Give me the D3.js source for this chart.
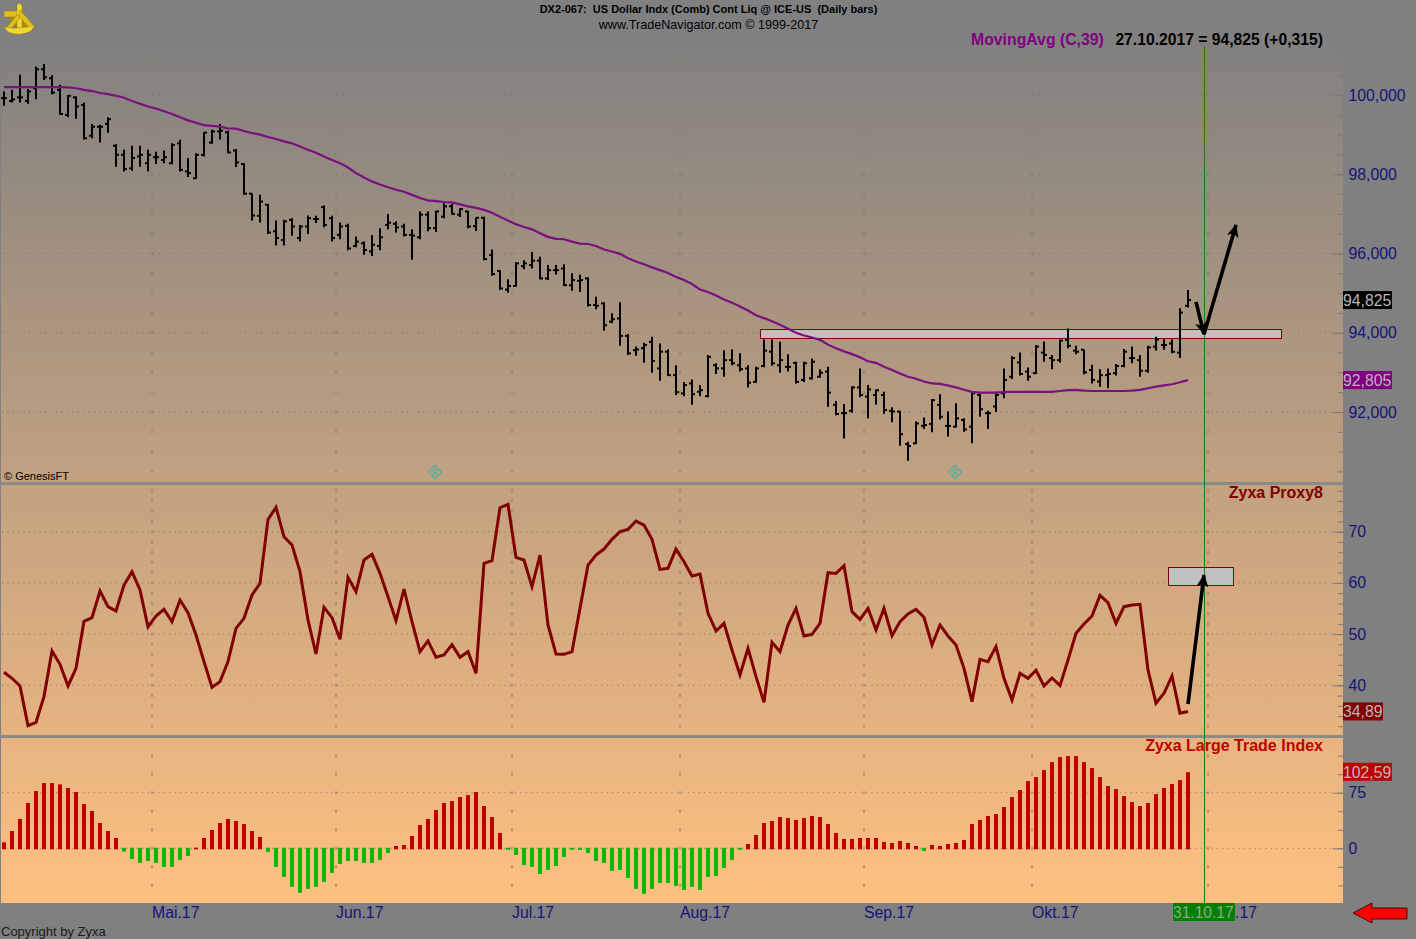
<!DOCTYPE html>
<html>
<head>
<meta charset="utf-8">
<title>DX2-067</title>
<script src="https://cdnjs.cloudflare.com/ajax/libs/d3/7.8.5/d3.min.js"></script>
<style>
  html, body { margin: 0; padding: 0; background: #808080; }
  svg { display: block; }
  text { font-family: "Liberation Sans", Arial, sans-serif; }
</style>
</head>
<body>
<svg id="chart" width="1416" height="939"></svg>
<script>
// daily bars, index 0 = first bar on the left, index 148 = 27.10.2017
const opens = [99.92,99.85,99.94,99.85,100.17,100.65,100.42,100.13,99.50,99.94,99.75,98.97,99.20,99.27,98.72,98.49,98.15,98.45,98.28,98.43,98.36,98.28,98.78,98.07,97.90,98.49,98.80,99.08,99.06,98.60,98.26,97.51,96.95,97.23,96.56,96.34,96.85,96.39,96.68,96.87,97.17,96.89,96.47,96.70,96.19,96.26,96.05,96.19,96.72,96.75,96.68,96.47,96.41,96.98,96.64,96.93,97.19,96.98,97.06,
  96.69,96.90,95.96,95.56,95.09,95.18,95.68,95.71,95.82,95.37,95.58,95.62,95.20,95.31,95.37,94.70,94.74,94.28,94.36,93.92,93.56,93.61,93.77,93.10,93.52,92.93,92.47,92.72,92.51,92.40,93.18,93.10,93.31,93.18,93.10,92.76,93.16,93.52,93.18,93.14,93.24,92.81,92.85,92.89,93.02,92.18,91.97,92.03,92.62,92.39,92.43,92.43,92.03,92.01,91.19,91.21,91.65,91.70,92.18,
  91.65,91.63,91.80,91.63,92.43,91.97,92.14,92.47,92.89,93.25,93.02,92.98,93.50,93.36,93.31,93.82,93.55,93.57,93.06,92.77,92.93,92.98,93.16,93.36,93.31,93.04,93.65,93.69,93.73,93.50,94.68];
const highs = [100.09,100.13,100.51,100.15,100.72,100.78,100.50,100.26,100.00,99.96,99.81,99.27,99.25,99.44,98.76,98.62,98.72,98.72,98.62,98.57,98.60,98.78,98.87,98.41,98.53,99.06,99.12,99.27,99.10,98.64,98.28,97.52,97.48,97.25,96.83,96.85,96.89,96.72,96.96,96.95,97.21,96.95,96.78,96.75,96.43,96.30,96.47,96.64,97.00,96.81,96.75,96.61,97.06,97.06,97.08,97.27,97.25,97.14,97.08,
  96.91,96.93,96.10,95.58,95.35,95.78,95.83,96.04,95.92,95.71,95.71,95.73,95.50,95.47,95.40,94.91,94.77,94.49,94.77,93.97,93.65,93.75,93.90,93.73,93.58,93.18,92.76,92.82,92.68,93.44,93.23,93.56,93.58,93.48,93.18,93.14,93.83,93.83,93.77,93.46,93.27,93.27,93.35,93.08,93.14,92.28,92.20,92.65,93.10,92.68,92.57,92.51,92.12,92.03,91.25,91.76,91.86,92.33,92.45,
  92.01,92.22,91.84,92.51,92.46,92.03,92.51,93.10,93.41,93.50,93.12,93.69,93.78,93.44,93.83,94.11,93.67,93.58,93.19,93.08,93.10,93.21,93.59,93.65,93.44,93.67,93.90,93.84,93.83,94.62,95.08];
const lows = [99.73,99.81,99.81,99.78,99.89,100.38,100.02,99.50,99.44,99.40,98.88,98.91,98.80,99.05,98.19,98.07,98.09,98.19,98.07,98.26,98.28,98.25,98.07,97.93,97.88,98.45,98.77,98.88,98.53,98.18,97.48,96.83,96.78,96.49,96.20,96.20,96.45,96.30,96.49,96.77,96.66,96.30,96.36,96.08,96.16,95.97,95.94,96.08,96.61,96.53,96.43,95.84,96.36,96.56,96.54,96.89,96.98,96.92,96.64,
  96.57,95.83,95.44,95.08,95.01,95.16,95.60,95.62,95.35,95.33,95.47,95.18,95.06,95.03,94.66,94.59,94.05,94.24,93.67,93.44,93.42,93.24,92.99,92.79,92.91,92.43,92.40,92.18,92.40,92.37,92.96,92.89,93.18,93.02,92.62,92.74,93.13,93.17,92.99,93.02,92.72,92.76,92.82,92.87,92.13,91.92,91.33,91.98,92.37,91.84,92.19,91.95,91.74,91.15,90.77,91.19,91.57,91.49,91.81,
  91.38,91.61,91.50,91.21,91.88,91.57,92.00,92.35,92.83,92.92,92.79,92.96,93.27,93.08,93.25,93.61,93.46,92.95,92.72,92.64,92.60,92.92,93.13,93.23,92.89,92.99,93.55,93.57,93.48,93.36,94.64];
const closes = [99.92,99.89,99.94,100.09,100.65,100.45,100.06,99.52,99.98,99.71,98.91,99.20,99.20,99.39,98.49,98.13,98.41,98.49,98.49,98.43,98.43,98.74,98.11,98.03,98.49,99.05,99.08,99.10,98.55,98.30,97.51,96.96,97.31,96.53,96.39,96.81,96.68,96.68,96.89,96.87,96.72,96.39,96.68,96.13,96.30,96.09,96.22,96.41,96.78,96.66,96.47,96.45,96.98,96.64,97.06,97.19,97.00,97.12,96.68,
  96.90,95.86,95.48,95.12,95.18,95.75,95.75,95.82,95.37,95.58,95.58,95.20,95.33,95.33,94.70,94.68,94.19,94.34,93.92,93.48,93.58,93.69,93.29,93.52,92.93,92.50,92.68,92.45,92.55,93.39,93.10,93.31,93.23,93.08,92.74,93.10,93.55,93.23,93.31,93.14,92.76,93.23,93.27,92.99,92.49,91.95,91.97,92.62,92.43,92.57,92.55,92.05,92.01,91.44,91.14,91.71,91.67,92.30,91.88,
  91.65,91.84,91.56,92.47,92.07,91.97,92.43,92.81,93.36,92.96,92.89,93.65,93.44,93.31,93.80,93.67,93.52,93.00,92.81,92.93,92.96,93.16,93.52,93.36,93.04,93.63,93.83,93.69,93.52,94.51,94.825];
const movingAvg = [100.20,100.20,100.20,100.20,100.20,100.20,100.20,100.20,100.19,100.17,100.13,100.10,100.05,100.02,99.98,99.93,99.85,99.78,99.71,99.66,99.59,99.52,99.44,99.36,99.30,99.24,99.22,99.20,99.16,99.15,99.09,99.04,99.00,98.94,98.89,98.83,98.78,98.70,98.62,98.54,98.45,98.36,98.28,98.17,98.03,97.92,97.82,97.74,97.67,97.61,97.56,97.48,97.40,97.34,97.32,97.30,97.29,97.24,97.19,
  97.15,97.10,97.03,96.93,96.83,96.74,96.67,96.61,96.51,96.42,96.37,96.36,96.30,96.25,96.24,96.19,96.10,96.05,95.99,95.88,95.80,95.73,95.65,95.58,95.51,95.41,95.33,95.23,95.09,95.03,94.94,94.84,94.76,94.66,94.56,94.44,94.37,94.29,94.20,94.10,94.00,93.93,93.88,93.82,93.70,93.61,93.53,93.46,93.38,93.28,93.24,93.14,93.06,92.97,92.89,92.84,92.77,92.72,92.71,
  92.67,92.62,92.56,92.51,92.49,92.49,92.49,92.50,92.51,92.51,92.51,92.51,92.51,92.51,92.53,92.55,92.56,92.54,92.53,92.53,92.53,92.53,92.53,92.54,92.56,92.60,92.64,92.67,92.70,92.75,92.805];
const proxy8 = [42.54,41.37,39.87,32.13,32.78,37.79,46.70,44.10,39.87,43.32,52.49,53.21,58.42,55.36,54.51,59.59,62.19,58.61,51.39,53.54,54.84,52.43,56.66,54.19,49.83,44.62,39.61,40.72,44.62,51.13,53.08,57.63,59.91,72.40,74.75,69.02,67.39,62.19,52.75,46.12,55.23,53.21,48.98,61.08,58.29,64.47,65.57,61.86,57.31,52.62,58.81,52.43,46.57,48.66,45.47,45.92,47.94,45.47,46.57,42.35,
  63.82,64.34,74.68,75.33,64.99,64.47,59.26,65.44,51.78,46.12,46.05,46.57,55.03,63.49,65.44,66.61,68.50,70.00,70.45,72.08,71.30,68.50,62.64,62.84,66.61,64.14,61.34,61.73,54.06,50.61,52.10,46.90,42.02,47.22,41.69,36.68,48.40,46.57,51.78,55.03,49.63,49.96,52.10,61.99,61.86,63.36,54.38,52.88,55.03,50.80,55.03,49.70,52.43,53.93,54.84,53.28,47.88,51.78,49.63,
  47.88,43.32,36.81,45.08,44.62,47.55,41.37,37.14,42.35,41.37,42.93,39.87,41.43,39.94,44.95,50.15,51.97,53.54,57.57,56.14,52.10,55.36,55.68,55.81,43.00,36.49,38.44,41.82,34.54,34.89];
const largeTrade = [8.1,23.3,39.5,61.1,77.2,88.0,88.0,86.2,81.3,75.9,59.7,50.3,34.1,23.3,13.9,-4.5,-14.4,-19.8,-17.1,-19.8,-25.1,-25.1,-15.7,-10.3,0.9,13.9,24.7,34.1,39.5,36.8,32.8,23.3,15.3,-4.9,-25.1,-38.6,-52.1,-60.2,-54.8,-52.1,-45.3,-33.2,-21.1,-17.1,-17.1,-19.8,-19.8,-15.7,-6.3,3.1,4.5,16.6,31.4,39.5,51.6,61.1,63.8,69.1,71.8,75.9,
  57.0,42.2,20.7,-2.2,-9.0,-22.5,-25.1,-34.6,-29.2,-23.8,-11.7,-2.2,-2.2,-6.3,-17.1,-19.8,-30.5,-29.2,-40.0,-54.8,-61.5,-54.8,-46.7,-46.7,-50.7,-56.1,-52.1,-56.1,-38.6,-37.3,-26.5,-15.7,-2.2,5.8,18.0,34.1,36.8,42.2,40.9,38.2,40.9,43.6,42.2,32.8,20.7,12.6,12.6,13.9,13.9,13.9,8.5,7.2,9.9,7.2,3.1,-3.6,4.5,3.1,5.8,7.2,
  11.2,32.8,38.2,43.6,46.2,55.7,69.1,78.6,90.7,96.1,105.5,116.3,123.0,124.4,124.4,116.3,108.2,96.1,84.0,79.9,70.5,62.4,57.0,61.1,73.2,81.3,86.7,92.0,102.59];

const monthLabels = ["Mai.17", "Jun.17", "Jul.17", "Aug.17", "Sep.17", "Okt.17"];
const monthStarts = [18.5, 41.5, 63.5, 84.5, 107.5, 128.5, 150.5];
const priceMajor = [92, 94, 96, 98, 100];
const priceMinor = d3.range(90.5, 102, 0.5);
const proxyMajor = [40, 50, 60, 70];
const proxyMinor = d3.range(32, 80, 2);
const tradeMajor = [0, 75];
const tradeMinor = [-50, -25, 0, 25, 50, 75, 100, 125];

// hand drawn boxes and arrows, in bar index / panel value
const priceZone = [94.5, 159.6, 94.107, 93.87];
const proxyZone = [145.5, 153.6, 63.05, 59.45];
const priceArrows = [[[149, 94.78], [150, 93.96]], [[150, 93.96], [154, 96.72]]];
const proxyArrows = [[[148, 36.35], [150, 61.55]]];
const cursorIndex = 150;
const diamondIndex = [54, 119];

const width = 1416;
const height = 939;
const plotRight = 1343;
const navy = "#14147a";
const axisFont = 15.8;

const svg = d3.select("#chart");
const x = d3.scaleLinear().domain([0, 148]).range([4, 1188]);
const yPrice = d3.scaleLinear().domain([92, 100]).range([412, 95]);
const yProxy = d3.scaleLinear().domain([40, 70]).range([685.3, 531.7]);
const yTrade = d3.scaleLinear().domain([0, 75]).range([848.3, 792.7]);

const defs = svg.append("defs");
const grad = defs.append("linearGradient")
  .attr("id", "bg").attr("x1", 0).attr("y1", 0).attr("x2", 0).attr("y2", 1);
grad.append("stop").attr("offset", "0%").attr("stop-color", "#808080");
grad.append("stop").attr("offset", "100%").attr("stop-color", "#ffc080");
defs.append("marker")
  .attr("id", "head").attr("markerUnits", "userSpaceOnUse")
  .attr("viewBox", "0 0 13 12").attr("refX", 12).attr("refY", 6)
  .attr("markerWidth", 13).attr("markerHeight", 12).attr("orient", "auto")
  .append("path").attr("d", "M0,0L13,6L0,12L3,6Z").attr("fill", "#000");

svg.append("rect").attr("width", width).attr("height", height).attr("fill", "#808080");
svg.append("rect").attr("x", 1).attr("y", 32).attr("width", plotRight - 1).attr("height", 871).attr("fill", "url(#bg)");

// grid: dotted levels and the broken month lines
function drawGrid(y, major, minor, top, bottom) {
  const g = svg.append("g");
  g.selectAll(".level").data(major).join("line")
    .attr("class", "level")
    .attr("x1", 2).attr("x2", plotRight - 10)
    .attr("y1", (d) => y(d)).attr("y2", (d) => y(d))
    .attr("stroke", "#7d7468").attr("stroke-width", 1).attr("stroke-dasharray", "1 4.4");
  monthStarts.forEach((m) => {
    g.selectAll(null).data(minor.filter((d) => y(d) > top && y(d) < bottom)).join("line")
      .attr("x1", x(m)).attr("x2", x(m))
      .attr("y1", (d) => y(d) - 1.5).attr("y2", (d) => y(d) + 1.5)
      .attr("stroke", "#7d7468").attr("stroke-width", 1);
  });
}
drawGrid(yPrice, priceMajor, priceMinor, 33, 481);
drawGrid(yProxy, proxyMajor, proxyMinor, 486, 734);
drawGrid(yTrade, tradeMajor, tradeMinor, 739, 901);

// right hand axes
function drawAxis(y, major, minor, fmt) {
  svg.append("g")
    .attr("transform", `translate(${plotRight},0)`)
    .call(d3.axisLeft(y).tickValues(minor).tickSize(5).tickFormat(""))
    .call((g) => g.select(".domain").remove())
    .call((g) => g.selectAll("line").attr("stroke", "#7a7a78"));
  svg.append("g")
    .attr("transform", `translate(${plotRight},0)`)
    .call(d3.axisLeft(y).tickValues(major).tickSize(10).tickFormat(""))
    .call((g) => g.select(".domain").remove())
    .call((g) => g.selectAll("line").attr("stroke", "#7a7a78"));
  svg.append("g")
    .attr("transform", `translate(${plotRight},0)`)
    .call(d3.axisRight(y).tickValues(major).tickSize(0).tickPadding(5.5).tickFormat(fmt))
    .call((g) => g.select(".domain").remove())
    .call((g) => g.selectAll("text").attr("font-size", axisFont).attr("fill", navy));
}
drawAxis(yPrice, priceMajor, priceMinor, (d) => d3.format(".3f")(d).replace(".", ","));
drawAxis(yProxy, proxyMajor, proxyMinor.filter((d) => yProxy(d) > 485), (d) => d);
drawAxis(yTrade, tradeMajor, tradeMinor, (d) => d);

// zone boxes sit under the bars
function zone(y, z) {
  svg.append("rect")
    .attr("x", Math.round(x(z[0])) + 0.5).attr("y", Math.round(y(z[2])) + 0.5)
    .attr("width", Math.round(x(z[1]) - x(z[0]))).attr("height", Math.round(y(z[3]) - y(z[2])))
    .attr("fill", "#c0c0c0").attr("stroke", "#800000").attr("stroke-width", 1);
}
zone(yPrice, priceZone);
zone(yProxy, proxyZone);

// panel separators
svg.selectAll(".sep").data([483.5, 736.5]).join("line")
  .attr("class", "sep")
  .attr("x1", 0).attr("x2", plotRight)
  .attr("y1", (d) => d).attr("y2", (d) => d)
  .attr("stroke", "#8a8a88").attr("stroke-width", 3);

// cursor line
svg.append("line")
  .attr("x1", x(cursorIndex) + 0.5).attr("x2", x(cursorIndex) + 0.5)
  .attr("y1", 46).attr("y2", 903)
  .attr("stroke", "#207a00").attr("stroke-width", 1);

// ohlc bars
const bars = svg.append("g").attr("stroke", "#000").attr("stroke-width", 2);
bars.selectAll(".stem").data(closes).join("line")
  .attr("class", "stem")
  .attr("x1", (d, i) => x(i)).attr("x2", (d, i) => x(i))
  .attr("y1", (d, i) => yPrice(highs[i])).attr("y2", (d, i) => yPrice(lows[i]));
bars.selectAll(".open").data(opens).join("line")
  .attr("class", "open")
  .attr("x1", (d, i) => x(i) - 3).attr("x2", (d, i) => x(i))
  .attr("y1", (d) => yPrice(d)).attr("y2", (d) => yPrice(d));
bars.selectAll(".close").data(closes).join("line")
  .attr("class", "close")
  .attr("x1", (d, i) => x(i)).attr("x2", (d, i) => x(i) + 3)
  .attr("y1", (d) => yPrice(d)).attr("y2", (d) => yPrice(d));

const lineOf = (y) => d3.line().x((d, i) => x(i)).y((d) => y(d));
svg.append("path").datum(movingAvg)
  .attr("d", lineOf(yPrice))
  .attr("fill", "none").attr("stroke", "#7b0f80").attr("stroke-width", 2.2);
svg.append("path").datum(proxy8)
  .attr("d", lineOf(yProxy))
  .attr("fill", "none").attr("stroke", "#800000").attr("stroke-width", 3);

// large trade histogram
svg.append("g").selectAll("rect").data(largeTrade).join("rect")
  .attr("x", (d, i) => x(i) - 2)
  .attr("width", 4)
  .attr("y", (d) => (d >= 0 ? yTrade(d) : yTrade(0) - 0.5))
  .attr("height", (d) => (d >= 0 ? yTrade(0) - yTrade(d) + 1 : yTrade(d) - yTrade(0) + 0.5))
  .attr("fill", (d) => (d >= 0 ? "#c00000" : "#0ab80a"));

// arrows
function arrows(y, list) {
  svg.append("g").selectAll("line").data(list).join("line")
    .attr("x1", (d) => x(d[0][0])).attr("y1", (d) => y(d[0][1]))
    .attr("x2", (d) => x(d[1][0])).attr("y2", (d) => y(d[1][1]))
    .attr("stroke", "#000").attr("stroke-width", 3.6)
    .attr("marker-end", "url(#head)");
}
arrows(yPrice, priceArrows);
arrows(yProxy, proxyArrows);

// small R diamonds
const diamonds = svg.append("g").selectAll("g").data(diamondIndex).join("g")
  .attr("transform", (d) => `translate(${x(d) - 1},472)`);
diamonds.append("path")
  .attr("d", d3.symbol().type(d3.symbolSquare).size(90))
  .attr("transform", "rotate(45)")
  .attr("fill", "none").attr("stroke", "#3fb5a5").attr("stroke-width", 1);
diamonds.append("text")
  .attr("text-anchor", "middle").attr("y", 4)
  .attr("font-size", 11).attr("fill", "#3fb5a5")
  .style("font-family", "'Liberation Serif', serif")
  .text("R");

// month labels, the date box covers most of the last one
svg.append("g")
  .attr("transform", "translate(0,903)")
  .call(d3.axisBottom(x).tickValues(monthStarts.slice(0, 6)).tickSize(0).tickPadding(0)
    .tickFormat((d, i) => monthLabels[i]))
  .call((g) => g.select(".domain").remove())
  .call((g) => g.selectAll("text")
    .attr("x", -0.5).attr("y", 15).attr("dy", 0)
    .attr("text-anchor", "start").attr("font-size", axisFont).attr("fill", navy));

// value flags on the axis
const flags = [
  { y: yPrice(94.825), w: 49, fill: "#000", text: "94,825" },
  { y: yPrice(92.805), w: 49, fill: "#800080", text: "92,805" },
  { y: yProxy(34.89), w: 40, fill: "#800000", text: "34,89" },
  { y: yTrade(102.59) - 0.5, w: 49, fill: "#c00000", text: "102,59" },
];
const flag = svg.append("g").selectAll("g").data(flags).join("g");
flag.append("rect")
  .attr("x", plotRight).attr("y", (d) => d.y - 9)
  .attr("width", (d) => d.w).attr("height", 18)
  .attr("fill", (d) => d.fill);
flag.append("text")
  .attr("x", plotRight).attr("y", (d) => d.y + 6)
  .attr("font-size", axisFont).attr("fill", "#b8b8b8")
  .text((d) => d.text);

// date box
svg.append("rect").attr("x", 1173).attr("y", 903).attr("width", 62).attr("height", 18).attr("fill", "#008000");
svg.append("text").attr("x", 1173).attr("y", 918).attr("font-size", axisFont - 0.2).attr("fill", "#8fa88f").text("31.10.17");

// titles
const label = (tx, ty, txt, size, color, bold, anchor) => svg.append("text")
  .attr("x", tx).attr("y", ty).attr("font-size", size).attr("fill", color)
  .attr("font-weight", bold ? "bold" : "normal")
  .attr("text-anchor", anchor || "start")
  .attr("xml:space", "preserve")
  .text(txt);
label(708.5, 13, "DX2-067:  US Dollar Indx (Comb) Cont Liq @ ICE-US  (Daily bars)", 11, "#000", true, "middle");
label(708.5, 29, "www.TradeNavigator.com © 1999-2017", 12.6, "#000", false, "middle");
label(971, 45, "MovingAvg (C,39)", 15.8, "#800080", true);
label(1323, 45, "27.10.2017 = 94,825 (+0,315)", 15.7, "#000", true, "end");
label(1323, 498, "Zyxa Proxy8", 16, "#800000", true, "end");
label(1323, 751, "Zyxa Large Trade Index", 16, "#c00000", true, "end");
label(4, 480, "© GenesisFT", 11, "#000", false);
label(1, 936, "Copyright by Zyxa", 13, "#1a1a1a", false);
label(1235, 918, ".17", axisFont, navy, false);

// red scroll arrow bottom right
svg.append("path")
  .attr("d", "M1353,913L1372,903V908H1407V919H1372V923Z")
  .attr("fill", "#ff0000").attr("stroke", "#3a1010").attr("stroke-width", 1);

// gold sextant logo
const logo = svg.append("g").attr("fill", "#e0be18").attr("stroke", "#8f7410").attr("stroke-width", 0.4);
logo.append("path").attr("d", "M9,18L19,14L30,26L19,30Z").attr("fill", "#a88c14");
logo.append("path").attr("d", "M4,11H18V17H4Z");
logo.append("path").attr("d", "M17,5L19,3L22,5V28H17Z").attr("fill", "#f0d830");
logo.append("path").attr("d", "M18,14L6,28L10,30L20,18Z");
logo.append("path").attr("d", "M20,10L35,27L30,29L19,16Z");
logo.append("path").attr("d", "M4,27Q19,30 35,25L31,31Q20,37 8,32Z").attr("fill", "#f0d830");
</script>
</body>
</html>
